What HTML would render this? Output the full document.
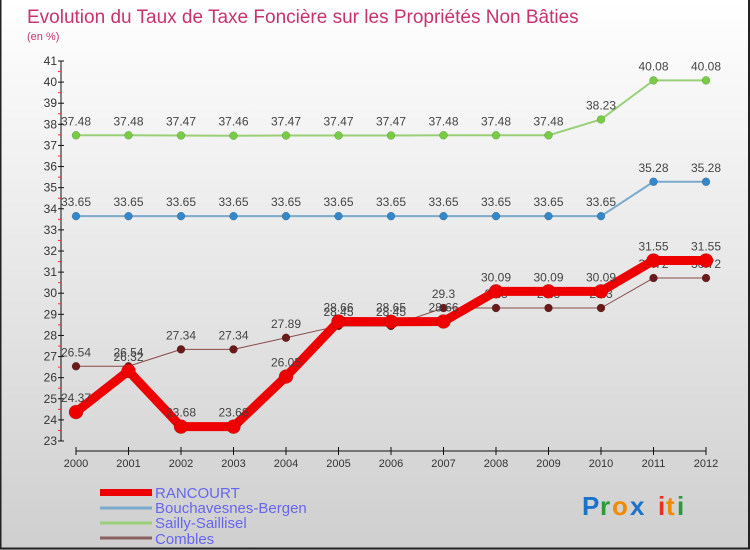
<!DOCTYPE html>
<html><head><meta charset="utf-8"><style>
body{margin:0;}
#wrap{position:relative;width:750px;height:550px;overflow:hidden;}
</style></head><body>
<div id="wrap">
<svg id="chart" width="750" height="550" xmlns="http://www.w3.org/2000/svg" font-family="'Liberation Sans', sans-serif">
<defs><linearGradient id="bg" x1="0" y1="0" x2="0" y2="1"><stop offset="0" stop-color="#ffffff"/><stop offset="1" stop-color="#cfcfcf"/></linearGradient></defs>
<rect x="0" y="0" width="750" height="550" fill="url(#bg)"/>
<rect x="0.5" y="-1" width="748.5" height="549.5" fill="none" stroke="#222" stroke-width="2"/>
<text x="27" y="23" font-size="19" fill="#c8326e">Evolution du Taux de Taxe Foncière sur les Propriétés Non Bâties</text>
<text x="27" y="40" font-size="11" fill="#c8326e">(en %)</text>
<g id="axes"></g><g id="series"></g>
<g>
<rect x="100" y="489" width="52" height="7" fill="#ee0000"/>
<line x1="100" y1="508" x2="152" y2="508" stroke="#7aaacc" stroke-width="3"/>
<line x1="100" y1="523" x2="152" y2="523" stroke="#99d077" stroke-width="3"/>
<line x1="100" y1="538" x2="152" y2="538" stroke="#8a6060" stroke-width="3"/>
<g font-size="15" fill="#6666ee">
<text x="155" y="498">RANCOURT</text>
<text x="155" y="513">Bouchavesnes-Bergen</text>
<text x="155" y="528">Sailly-Saillisel</text>
<text x="155" y="544">Combles</text>
</g></g>
<g font-size="26" font-weight="bold">
<text x="582" y="515" fill="#1a73c8">P</text><text x="600" y="515" fill="#2a9a3a">r</text><text x="612" y="515" fill="#f08a00">o</text><text x="630" y="515" fill="#1a73c8">x</text><text x="658" y="515" fill="#e83020">i</text><text x="666" y="515" fill="#f08a00">t</text><text x="677" y="515" fill="#2a9a3a">i</text>
</g>
</svg>
<script>
const years=[2000,2001,2002,2003,2004,2005,2006,2007,2008,2009,2010,2011,2012];
const yTicks=[23,24,25,26,27,28,29,30,31,32,33,34,35,36,37,38,39,40,41];
const rancourt=[24.37,26.32,23.68,23.68,26.05,28.66,28.65,28.66,30.09,30.09,30.09,31.55,31.55];
const bouchavesnes=[33.65,33.65,33.65,33.65,33.65,33.65,33.65,33.65,33.65,33.65,33.65,35.28,35.28];
const sailly=[37.48,37.48,37.47,37.46,37.47,37.47,37.47,37.48,37.48,37.48,38.23,40.08,40.08];
const combles=[26.54,26.54,27.34,27.34,27.89,28.45,28.45,29.3,29.3,29.3,29.3,30.72,30.72];
const NS='http://www.w3.org/2000/svg';
const xS=i=>76+i*52.5;
const yS=v=>441-(v-23)*(380/18);
function mk(t,a,p){const e=document.createElementNS(NS,t);for(const k in a)e.setAttribute(k,a[k]);p.appendChild(e);return e;}
const ax=document.getElementById('axes');
let e=mk('line',{x1:61,y1:61,x2:61,y2:441,stroke:'#111','stroke-width':1},ax);


e=mk('line',{x1:76,y1:451,x2:706,y2:451,stroke:'#111','stroke-width':1},ax);


yTicks.forEach(v=>{
 mk('line',{x1:58,y1:yS(v),x2:64,y2:yS(v),stroke:'#111'},ax);
 if(v<41) mk('line',{x1:58,y1:yS(v+0.5),x2:61,y2:yS(v+0.5),stroke:'#e33'},ax);
 const t=mk('text',{x:57,y:yS(v)+4,'font-size':12,'text-anchor':'end',fill:'#333'},ax);
 t.textContent=v;
 
 
});
years.forEach((y,i)=>{
 mk('line',{x1:xS(i),y1:447,x2:xS(i),y2:455,stroke:'#111'},ax);
 const t=mk('text',{x:xS(i),y:467,'font-size':11,'text-anchor':'middle',fill:'#333'},ax);
 t.textContent=y;
 
 
});
const sg=document.getElementById('series');
function series(name,vals,color,w,r,dot){
 const g=mk('g',{},sg);
 
 
 const p=mk('polyline',{points:vals.map((v,i)=>xS(i)+','+yS(v)).join(' '),fill:'none',stroke:color,'stroke-width':w,'stroke-linejoin':'round'},g);
 
 
 vals.forEach((v,i)=>{
  const c=mk('circle',{cx:xS(i),cy:yS(v),r:r,fill:dot,stroke:'rgba(0,0,0,0.25)','stroke-width':0.5},g);
  
  
  const t=mk('text',{x:xS(i),y:yS(v)-10,'font-size':12,'text-anchor':'middle',fill:'#444'},g);
  t.textContent=v;
  
  
 });
}
series('sailly',sailly,'#99d077',2,4,'#77cc44');
series('bouchavesnes',bouchavesnes,'#7aaacc',2,4,'#3388cc');
series('combles',combles,'#8a4848',1,4,'#6a1a1a');
series('rancourt',rancourt,'#ee0000',9,7,'#ee0000');
</script>
</div>
</body></html>
